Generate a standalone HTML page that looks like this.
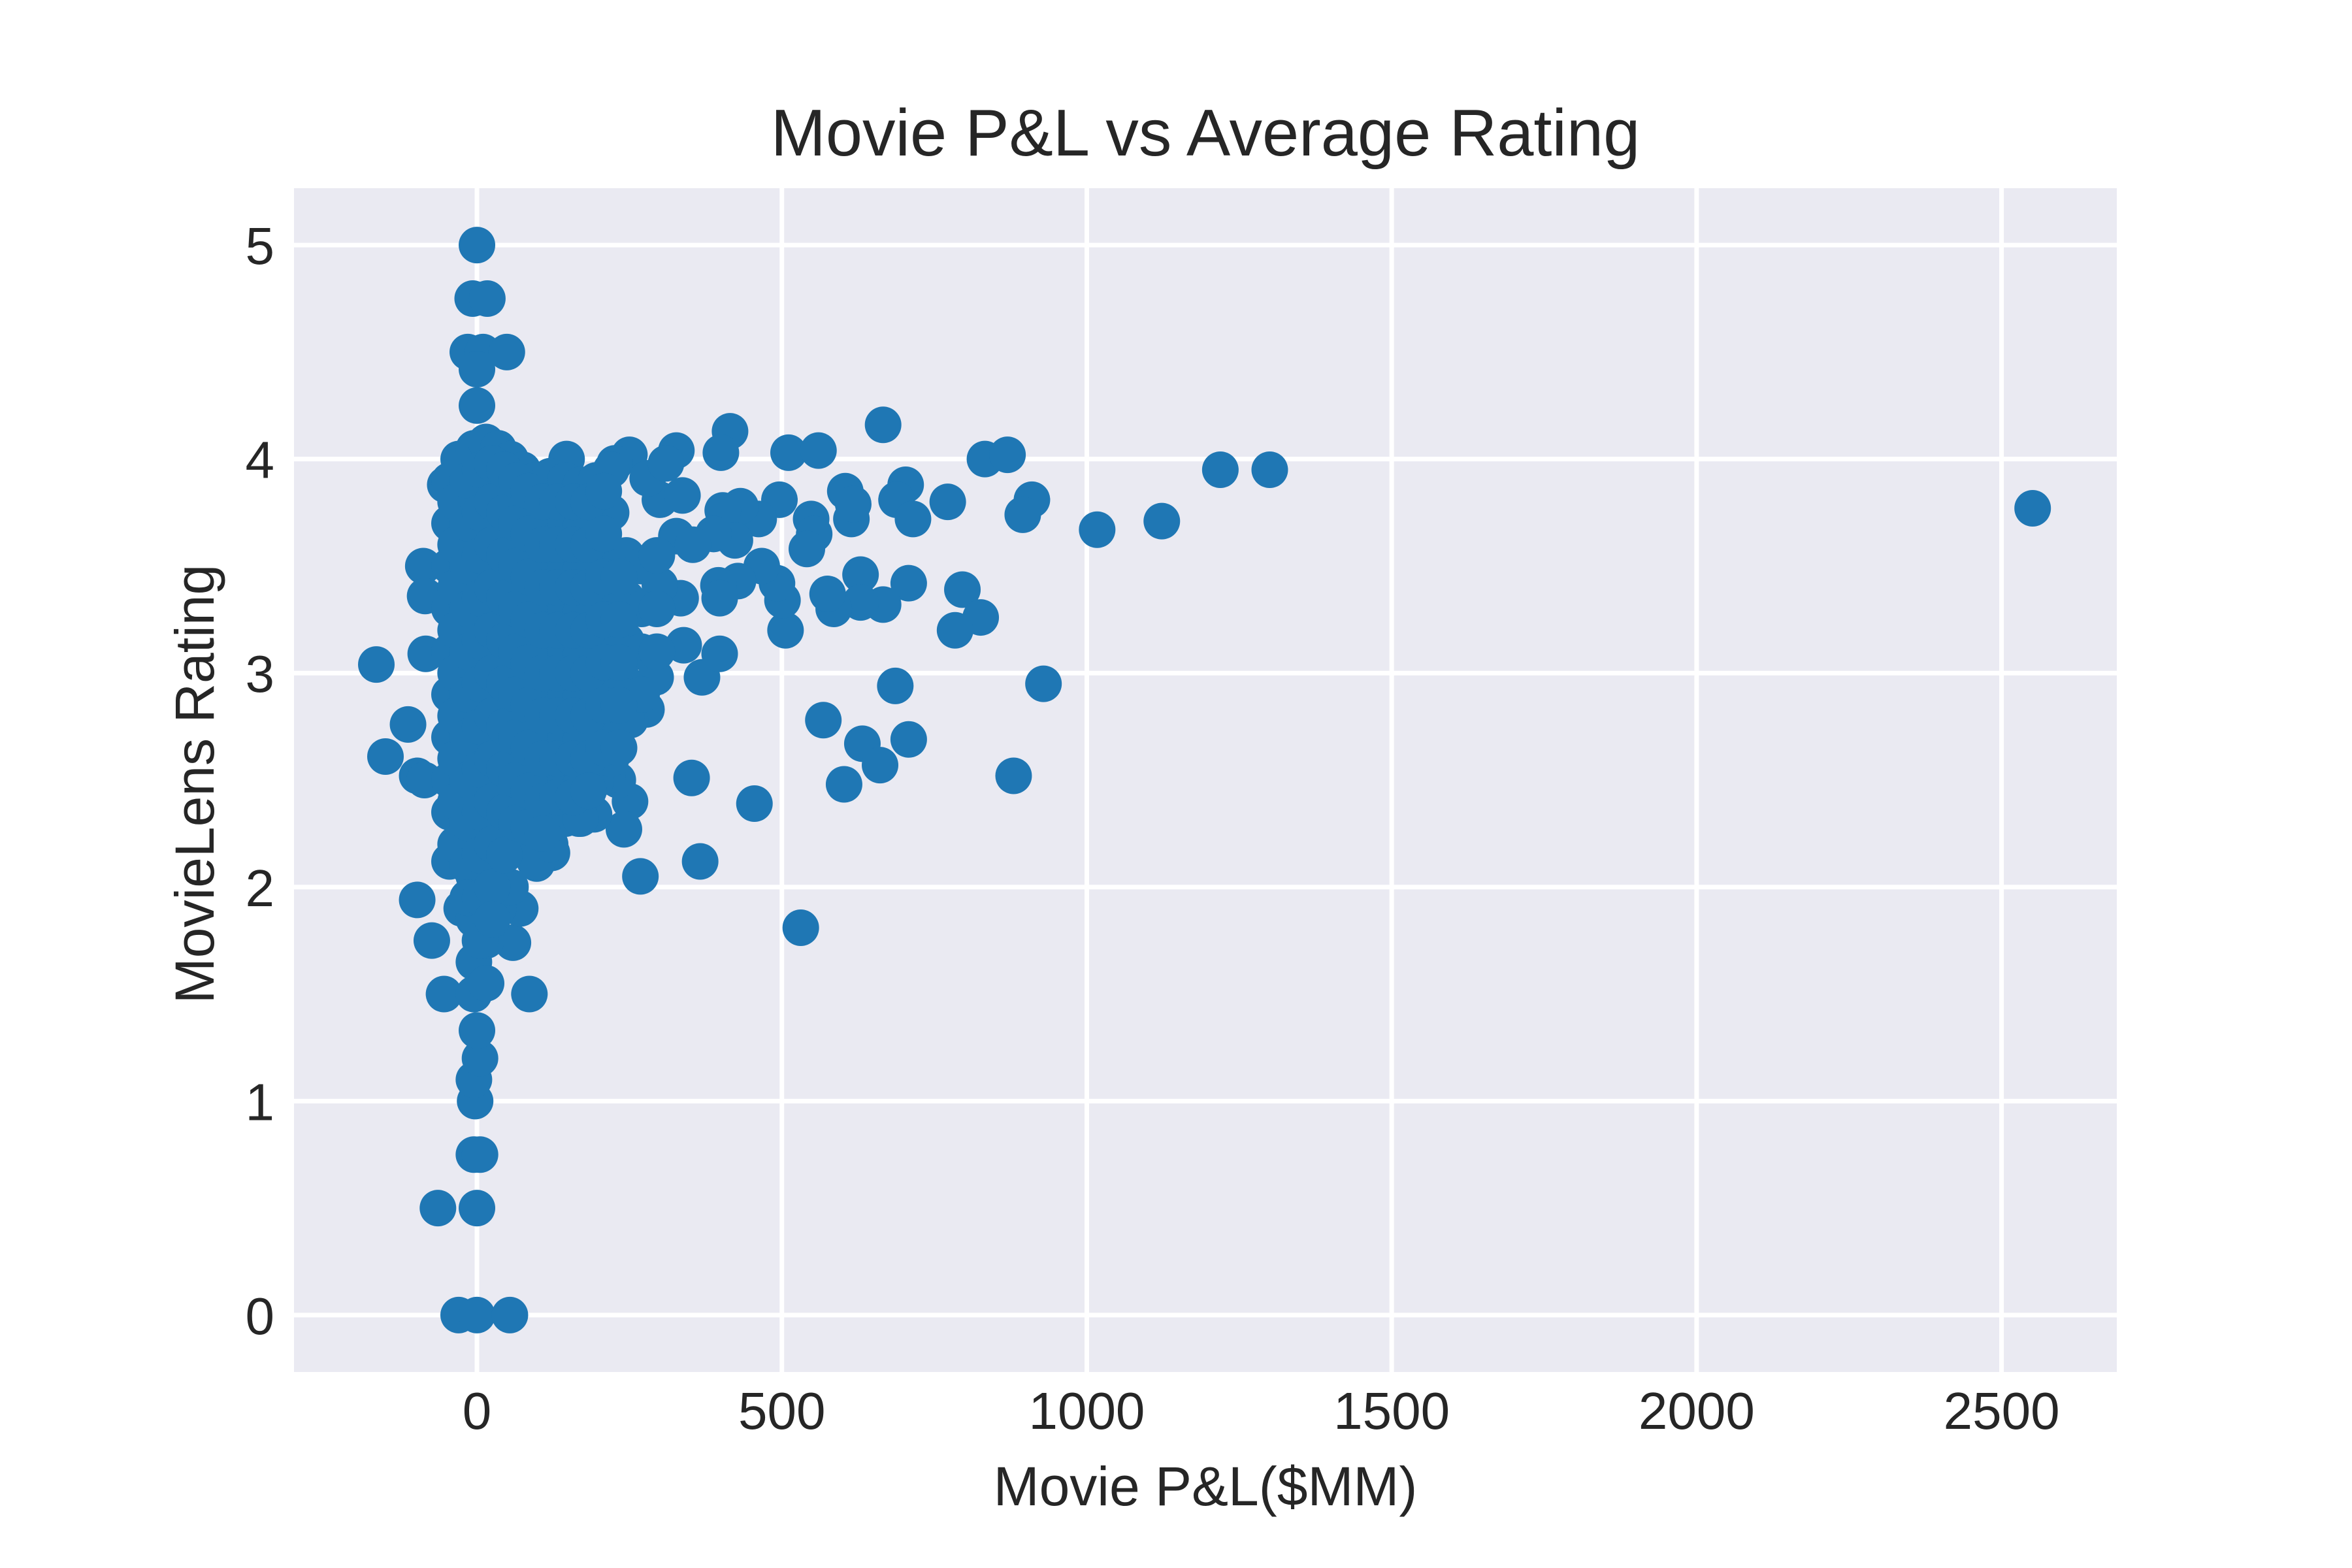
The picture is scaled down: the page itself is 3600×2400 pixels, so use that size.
<!DOCTYPE html>
<html><head><meta charset="utf-8"><style>
html,body{margin:0;padding:0;background:#fff;}
svg{display:block;font-family:"Liberation Sans",Arial,sans-serif;}
</style></head><body>
<svg id="chart" width="3600" height="2400" viewBox="0 0 3600 2400" xmlns="http://www.w3.org/2000/svg">
<rect x="0" y="0" width="3600" height="2400" fill="#ffffff"/>
<rect x="450" y="288" width="2790" height="1812" fill="#EAEAF2"/>
<g id="grid"></g>
<g id="points"></g>
<g id="ticks"></g>
<text x="1845" y="238" text-anchor="middle" font-size="101" fill="#262626">Movie P&amp;L vs Average Rating</text>
<text x="1845" y="2304" text-anchor="middle" font-size="84" fill="#262626">Movie P&amp;L($MM)</text>
<text x="0" y="0" transform="translate(327,1200) rotate(-90)" text-anchor="middle" font-size="84" fill="#262626">MovieLens Rating</text>
</svg>
<script>
const xTicks = [0, 500, 1000, 1500, 2000, 2500];
const yTicks = [0, 1, 2, 3, 4, 5];
const xTickLabels = ["0", "500", "1000", "1500", "2000", "2500"];
const yTickLabels = ["0", "1", "2", "3", "4", "5"];
const pnl = [
-165,-150,-113,-98,-86,-98,-74,-54,-64,-30,0,54,
0,-7,17,-15,10,49,0,0,-3,-5,5,-5,5,0,0,86,59,71,-84,-88,-85,-52,-30,
666,415,327,250,511,560,400,147,226,833,870,1219,1300,2551,1017,1123,910,895,772,703,688,715,604,614,617,548,553,541,496,462,432,403,423,388,300,337,280,310,327,354,
629,708,796,666,629,585,575,826,784,506,501,492,467,428,396,398,334,300,369,398,339,686,929,568,632,708,661,602,880,352,455,366,531,268,293,278,241,251,241,231,214,192,167,123,98,147,251,
-45,-45,-45,-45,-45,-45,-45,-45,-45,-45,
-25,-25,-25,-25,-25,-25,-25,-25,-25,-25,-25,
-5,-5,-5,-5,-5,-5,-5,-5,-5,-5,-5,-5,-5,-5,
15,15,15,15,15,15,15,15,15,15,15,15,15,15,
35,35,35,35,35,35,35,35,35,35,35,35,
55,55,55,55,55,55,55,55,55,55,55,
75,75,75,75,75,75,75,75,75,75,
95,95,95,95,95,95,95,95,95,95,
120,120,120,120,120,120,120,120,120,120,
145,145,145,145,145,145,145,145,145,
170,170,170,170,170,170,170,170,170,
195,195,195,195,195,195,195,195,
220,220,220,220,220,220,220,220,
245,245,245,245,245,
270,270,270,270,
295,295,295,
-35,-35,-35,-35,-35,-35,-35,-35,-35,
-15,-15,-15,-15,-15,-15,-15,-15,-15,-15,-15,
5,5,5,5,5,5,5,5,5,5,5,5,
25,25,25,25,25,25,25,25,25,25,25,25,
45,45,45,45,45,45,45,45,45,45,
65,65,65,65,65,65,65,65,65,
85,85,85,85,85,85,85,85,85,
108,108,108,108,108,108,108,108,108,
132,132,132,132,132,132,132,132,
158,158,158,158,158,158,158,158,
183,183,183,183,183,183,183,183,
208,208,208,208,208,208,208,
233,233,233,233,233
];
const rating = [
3.04,2.61,2.76,2.52,2.50,1.94,1.75,1.50,0.50,0,0,0,
5.0,4.75,4.75,4.5,4.5,4.5,4.25,4.42,1.0,1.1,1.2,0.75,0.75,0.5,1.33,1.5,1.74,1.9,3.09,3.5,3.36,3.88,4.0,
4.16,4.13,4.04,4.02,4.03,4.04,4.03,4.0,3.98,4.0,4.02,3.95,3.95,3.77,3.67,3.71,3.81,3.74,3.80,3.88,3.81,3.72,3.85,3.72,3.79,3.72,3.65,3.58,3.81,3.72,3.78,3.76,3.62,3.65,3.81,3.83,3.91,3.98,3.64,3.60,
3.46,3.42,3.39,3.32,3.33,3.30,3.37,3.26,3.20,3.20,3.34,3.42,3.50,3.43,3.41,3.35,3.35,3.41,2.98,3.09,3.13,2.94,2.95,2.78,2.67,2.69,2.57,2.48,2.52,2.51,2.39,2.12,1.81,2.05,2.98,2.83,2.95,2.40,2.27,2.50,2.52,2.34,2.32,2.16,2.11,2.72,2.78,
3.9,3.7,3.5,3.3,3.1,2.9,2.7,2.5,2.35,2.12,
4.0,3.8,3.6,3.4,3.2,3.0,2.8,2.6,2.4,2.2,1.9,
4.05,3.85,3.65,3.45,3.25,3.05,2.85,2.65,2.45,2.25,2.05,1.85,1.65,1.5,
4.08,3.9,3.7,3.5,3.3,3.1,2.9,2.7,2.5,2.3,2.1,1.95,1.75,1.55,
4.05,3.85,3.65,3.45,3.25,3.05,2.85,2.65,2.45,2.25,2.05,1.9,
4.0,3.8,3.6,3.4,3.2,3.0,2.8,2.6,2.4,2.2,2.0,
3.95,3.75,3.55,3.35,3.15,2.95,2.75,2.55,2.35,2.2,
3.9,3.7,3.5,3.3,3.1,2.9,2.7,2.5,2.3,2.12,
3.92,3.72,3.52,3.32,3.12,2.92,2.72,2.52,2.35,2.2,
3.9,3.7,3.5,3.3,3.1,2.9,2.7,2.5,2.32,
3.88,3.68,3.48,3.28,3.08,2.88,2.68,2.48,2.32,
3.9,3.7,3.5,3.3,3.1,2.9,2.7,2.5,
3.95,3.75,3.55,3.35,3.15,2.95,2.75,2.6,
3.55,3.35,3.15,2.95,2.8,
3.5,3.3,3.1,2.9,
3.55,3.3,3.1,
3.8,3.6,3.4,3.2,3.0,2.8,2.6,2.4,2.2,
3.9,3.7,3.5,3.3,3.1,2.9,2.7,2.5,2.3,2.1,1.95,
3.95,3.75,3.55,3.35,3.15,2.95,2.75,2.55,2.35,2.15,1.95,1.75,
3.98,3.8,3.6,3.4,3.2,3.0,2.8,2.6,2.4,2.2,2.0,1.85,
3.95,3.75,3.55,3.35,3.15,2.95,2.75,2.55,2.35,2.15,
3.9,3.7,3.5,3.3,3.1,2.9,2.7,2.5,2.3,
3.85,3.65,3.45,3.25,3.05,2.85,2.65,2.45,2.28,
3.8,3.6,3.4,3.2,3.0,2.8,2.6,2.4,2.25,
3.8,3.6,3.4,3.2,3.0,2.8,2.6,2.42,
3.8,3.6,3.4,3.2,3.0,2.8,2.6,2.42,
3.8,3.6,3.4,3.2,3.0,2.8,2.6,2.45,
3.85,3.65,3.45,3.25,3.05,2.85,2.65,
3.45,3.25,3.05,2.85,2.65
];
const NS = "http://www.w3.org/2000/svg";
const plot = {left: 450, right: 3240, top: 288, bottom: 2100};
const xDomain = [-300, 2689];
const yDomain = [-0.266, 5.266];
function xScale(v){ return plot.left + (v - xDomain[0]) / (xDomain[1] - xDomain[0]) * (plot.right - plot.left); }
function yScale(v){ return plot.bottom - (v - yDomain[0]) / (yDomain[1] - yDomain[0]) * (plot.bottom - plot.top); }
const grid = document.getElementById('grid');
const ticks = document.getElementById('ticks');
xTicks.forEach(function(t, i){
  const l = document.createElementNS(NS, 'line');
  
  
  l.setAttribute('x1', xScale(t)); l.setAttribute('x2', xScale(t));
  l.setAttribute('y1', plot.top); l.setAttribute('y2', plot.bottom);
  l.setAttribute('stroke', '#ffffff'); l.setAttribute('stroke-width', '7');
  grid.appendChild(l);
  const tx = document.createElementNS(NS, 'text');
  
  
  tx.setAttribute('x', xScale(t)); tx.setAttribute('y', 2187);
  tx.setAttribute('text-anchor', 'middle'); tx.setAttribute('font-size', '80'); tx.setAttribute('fill', '#262626');
  tx.textContent = xTickLabels[i];
  ticks.appendChild(tx);
});
yTicks.forEach(function(t, i){
  const l = document.createElementNS(NS, 'line');
  
  
  l.setAttribute('x1', plot.left); l.setAttribute('x2', plot.right);
  l.setAttribute('y1', yScale(t)); l.setAttribute('y2', yScale(t));
  l.setAttribute('stroke', '#ffffff'); l.setAttribute('stroke-width', '7');
  grid.appendChild(l);
  const tx = document.createElementNS(NS, 'text');
  
  
  tx.setAttribute('x', 420); tx.setAttribute('y', yScale(t) + 29);
  tx.setAttribute('text-anchor', 'end'); tx.setAttribute('font-size', '80'); tx.setAttribute('fill', '#262626');
  tx.textContent = yTickLabels[i];
  ticks.appendChild(tx);
});
const pts = document.getElementById('points');
for (let i = 0; i < pnl.length; i++) {
  const c = document.createElementNS(NS, 'circle');
  
  
  c.setAttribute('cx', xScale(pnl[i]));
  c.setAttribute('cy', yScale(rating[i]));
  c.setAttribute('r', 28);
  c.setAttribute('fill', '#1f77b4');
  pts.appendChild(c);
}
</script>
</body></html>
